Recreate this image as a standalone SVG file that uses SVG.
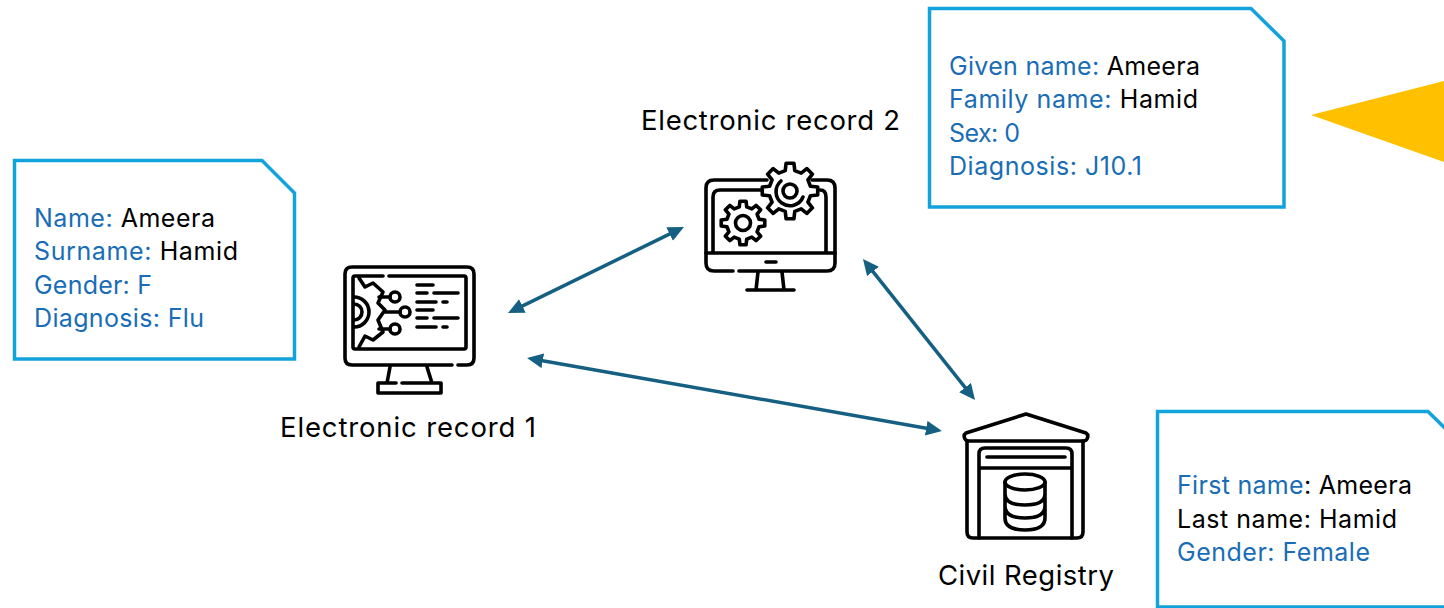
<svg xmlns="http://www.w3.org/2000/svg" width="1444" height="608" viewBox="0 0 1444 608">
<style>
text{font-family:Inter,"Noto Sans","Liberation Sans",sans-serif;font-size:25px;fill:#000}
.l{font-size:27.500px}
.b{fill:#196DB6}
.note{fill:#fff;stroke:#12A3DC;stroke-width:3.5;stroke-linejoin:miter}
.ic{fill:none;stroke:#000;stroke-width:3.6;stroke-linecap:round;stroke-linejoin:round}
.con{stroke:#156082;stroke-width:3.5;fill:none;marker-start:url(#ah);marker-end:url(#ah)}
.gear{vector-effect:non-scaling-stroke;fill:#fff;stroke:#000;stroke-width:3.6;stroke-linejoin:round}
</style>
<defs>
<marker id="ah" markerUnits="userSpaceOnUse" markerWidth="18" markerHeight="16" refX="6" refY="7.5" orient="auto-start-reverse"><path d="M0 0L16 7.500L0 15Z" fill="#156082"/></marker>
<path id="g" class="gear" d="M73-17L99-14 99 14 73 17 64 40 80 60 60 80 40 64 17 73 14 99-14 99-17 73-40 64-60 80-80 60-64 40-73 17-99 14-99-14-73-17-64-40-80-60-60-80-40-64-17-73-14-99 14-99 17-73 40-64 60-80 80-60 64-40Z"/>
</defs>
<rect width="1444" height="608" fill="#fff"/>
<polygon id="pointer" points="1311,115 1444,81 1444,162" fill="#FFC000"/>
<g id="connectors">
<line class="con" x1="517" y1="308.600" x2="675" y2="231.400"/>
<line class="con" x1="869.200" y1="266.800" x2="968.800" y2="392.200"/>
<line class="con" x1="536.900" y1="359.700" x2="932.100" y2="429.300"/>
</g>
<g id="note-record-1">
<path class="note" d="M14.500 160.500H262L294.500 193V359H14.500Z"/>
<text x="34" y="227" textLength="181"><tspan class="b">Name: </tspan>Ameera</text>
<text x="34" y="260" textLength="204"><tspan class="b">Surname: </tspan>Hamid</text>
<text x="34" y="294" class="b" textLength="118">Gender: F</text>
<text x="34" y="327" class="b" textLength="170">Diagnosis: Flu</text>
</g>
<g id="note-record-2">
<path class="note" d="M929.500 8.500H1251L1284 41V207H929.500Z"/>
<text x="949" y="75" textLength="251"><tspan class="b">Given name: </tspan>Ameera</text>
<text x="949" y="108" textLength="249"><tspan class="b">Family name: </tspan>Hamid</text>
<text x="949" y="142" class="b" textLength="71">Sex: 0</text>
<text x="949" y="175" class="b" textLength="193">Diagnosis: J10.1</text>
</g>
<g id="note-registry">
<path class="note" d="M1157.500 411.500H1428L1461 444V607H1157.500Z"/>
<text x="1177" y="494" textLength="235"><tspan class="b">First name</tspan>: Ameera</text>
<text x="1177" y="528" textLength="220">Last name: Hamid</text>
<text x="1177" y="561" class="b" textLength="193">Gender: Female</text>
</g>
<g id="electronic-record-1">
<path class="ic" d="M452 365H352Q345 365 345 358V274Q345 267 352 267H467Q474 267 474 274V358Q474 365 467 365H458"/>
<path class="ic" d="M383 276H355Q353 276 353 278V347Q353 349 355 349H464Q466 349 466 347V278Q466 276 464 276H389"/>
<path class="ic" d="M390 367L387 383M427 367L432 383M396 383H378V393H441V383H402"/>
<path class="ic" d="M359 278L365 287 373 283 383 292 378 303 385 310 378 320 383 332 373 340 365 336 359 347"/>
<path class="ic" d="M354 297A15 15 0 0 1 354 327M354 304A8 8 0 0 1 354 320"/>
<path class="ic" d="M379 297H390M385 312H400M379 329H390"/>
<circle class="ic" cx="395" cy="297" r="5"/><circle class="ic" cx="405" cy="312" r="5"/><circle class="ic" cx="395" cy="329" r="5"/>
<path class="ic" d="M417 285H433M417 293H427M434 293H458M417 302H436M443 302H447M417 310H433M417 318H427M434 318H458M417 327H436M443 327H447"/>
<text class="l" x="280" y="437" textLength="256">Electronic record 1</text>
</g>
<g id="electronic-record-2">
<path class="ic" d="M733 271H714Q706 271 706 263V188Q706 180 714 180H767M812 180H827Q835 180 835 188V263Q835 271 827 271H739"/>
<path class="ic" d="M713 253V197Q713 190 720 190H764M820 190Q826 190 826 197V253M706 253H835M766 262H776"/>
<path class="ic" d="M758 272L756 290M782 272L784 290M747 290H794"/>
<use href="#g" transform="translate(790 191) scale(.28)"/>
<use href="#g" transform="translate(743 223) scale(.22)"/>
<circle class="ic" cx="743" cy="223" r="7.500"/>
<circle class="ic" cx="790" cy="191" r="7"/>
<path class="ic" d="M781 181A14 14 0 1 0 803 197"/>
<text class="l" x="641" y="130" textLength="259">Electronic record 2</text>
</g>
<g id="civil-registry">
<path class="ic" d="M1026 414L1086 433Q1089 435 1087 439Q1086 441 1083 441H969Q966 441 965 439Q963 435 966 433Z"/>
<path class="ic" d="M967 441V532Q967 538 973 538H1077Q1083 538 1083 532V441"/>
<path class="ic" d="M979 538V454Q979 448 985 448H1066Q1072 448 1072 454V538M979 468H1072"/>
<path class="ic" d="M987 457H1065"/>
<ellipse class="ic" cx="1025" cy="482" rx="20" ry="8"/>
<path class="ic" d="M1005 482V518Q1005 530 1025 530T1045 518V482M1005 494Q1005 505 1025 505T1045 494M1005 506Q1005 518 1025 518T1045 506"/>
<text class="l" x="938" y="585" textLength="176">Civil Registry</text>
</g>
</svg>
